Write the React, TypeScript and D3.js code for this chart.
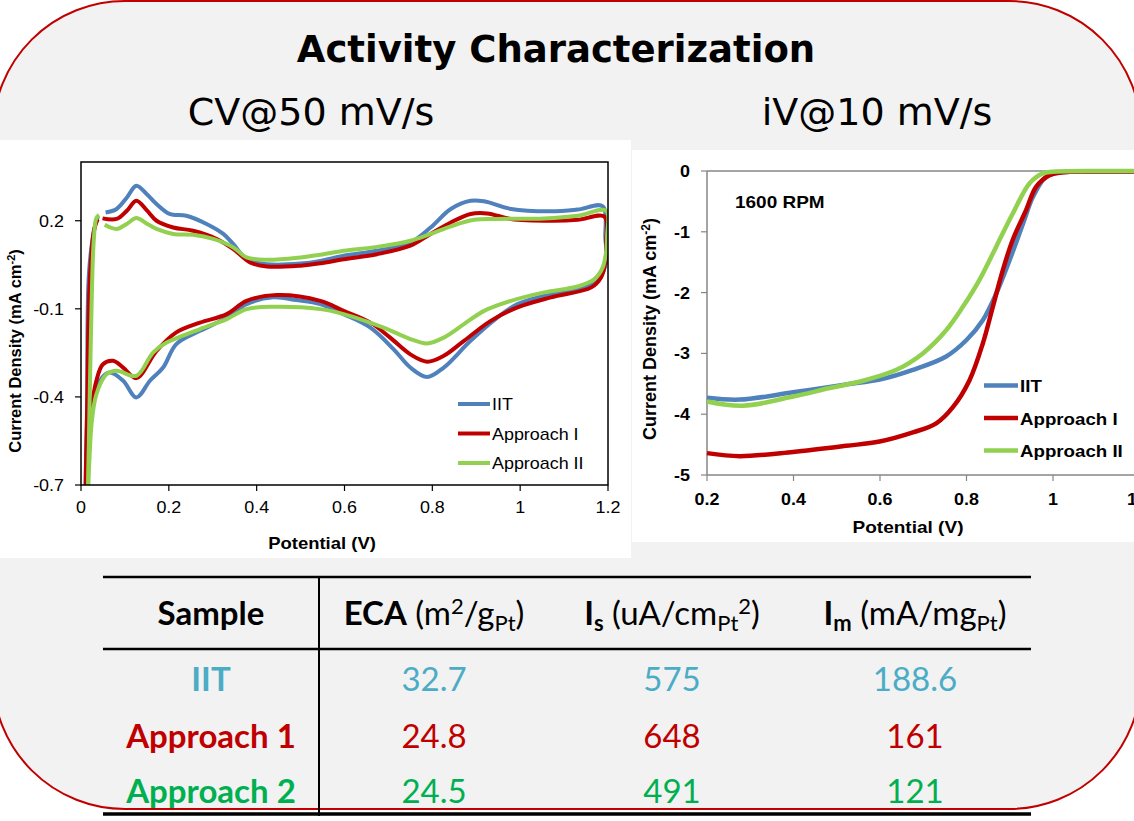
import React from "react";
import * as d3 from "d3";

const W = 1134;
const H = 821;

const seriesNames = ["IIT", "Approach I", "Approach II"];
const seriesColors = ["#4f81bd", "#c00000", "#92d050"];

// CV @ 50 mV/s : [potential V, current mA/cm2], one closed loop per sample
const cvIIT: [number, number][] = [
  [0.056, 0.228], [0.081, 0.24], [0.105, 0.28], [0.126, 0.319], [0.15, 0.29], [0.172, 0.257],
  [0.202, 0.223], [0.24, 0.217], [0.286, 0.189], [0.324, 0.155], [0.347, 0.12], [0.377, 0.069],
  [0.423, 0.052], [0.5, 0.054], [0.545, 0.063], [0.598, 0.081], [0.674, 0.098], [0.75, 0.126],
  [0.796, 0.177], [0.842, 0.24], [0.887, 0.268], [0.918, 0.266], [0.979, 0.24], [1.07, 0.232],
  [1.131, 0.238], [1.188, 0.249], [1.194, 0.14], [1.197, 0.07], [1.19, 0.03], [1.177, -0.005],
  [1.146, -0.027], [1.07, -0.05], [0.994, -0.084], [0.948, -0.13], [0.887, -0.209], [0.826, -0.3],
  [0.788, -0.332], [0.75, -0.3], [0.712, -0.238], [0.659, -0.164], [0.598, -0.118], [0.545, -0.084],
  [0.49, -0.07], [0.438, -0.061], [0.377, -0.084], [0.332, -0.13], [0.271, -0.175], [0.217, -0.22],
  [0.187, -0.3], [0.157, -0.345], [0.126, -0.402], [0.096, -0.345], [0.065, -0.317], [0.043, -0.345],
  [0.027, -0.436], [0.016, -0.607], [0.011, -0.72], [0.014, -0.436], [0.018, 0.018], [0.031, 0.177],
  [0.039, 0.217],
];
const cvApproach1: [number, number][] = [
  [0.049, 0.208], [0.081, 0.206], [0.105, 0.235], [0.126, 0.268], [0.15, 0.235], [0.172, 0.2],
  [0.21, 0.177], [0.255, 0.166], [0.309, 0.138], [0.347, 0.103], [0.385, 0.058], [0.423, 0.044],
  [0.5, 0.047], [0.545, 0.055], [0.598, 0.069], [0.674, 0.086], [0.75, 0.115], [0.796, 0.155],
  [0.842, 0.194], [0.887, 0.223], [0.925, 0.225], [0.979, 0.206], [1.07, 0.2], [1.131, 0.203],
  [1.192, 0.214], [1.196, 0.13], [1.194, 0.06], [1.184, 0.007], [1.162, -0.027], [1.07, -0.061],
  [0.994, -0.095], [0.933, -0.141], [0.872, -0.209], [0.826, -0.26], [0.788, -0.28], [0.75, -0.255],
  [0.704, -0.198], [0.659, -0.147], [0.598, -0.107], [0.545, -0.073], [0.446, -0.053], [0.377, -0.073],
  [0.332, -0.118], [0.271, -0.147], [0.217, -0.18], [0.172, -0.243], [0.126, -0.336], [0.096, -0.3],
  [0.073, -0.277], [0.05, -0.289], [0.035, -0.345], [0.02, -0.493], [0.011, -0.72], [0.014, -0.436],
  [0.02, 0.0], [0.03, 0.17], [0.038, 0.205],
];
const cvApproach2: [number, number][] = [
  [0.054, 0.186], [0.081, 0.172], [0.105, 0.19], [0.126, 0.209], [0.15, 0.19], [0.172, 0.172],
  [0.21, 0.155], [0.255, 0.152], [0.301, 0.138], [0.347, 0.109], [0.377, 0.075], [0.423, 0.067],
  [0.5, 0.075], [0.545, 0.084], [0.598, 0.098], [0.674, 0.111], [0.75, 0.132], [0.796, 0.155],
  [0.842, 0.181], [0.895, 0.203], [0.948, 0.206], [1.055, 0.208], [1.131, 0.217], [1.196, 0.234],
  [1.198, 0.15], [1.196, 0.098], [1.188, 0.041], [1.169, 0.001], [1.131, -0.024], [1.055, -0.044],
  [0.979, -0.073], [0.918, -0.107], [0.872, -0.152], [0.826, -0.198], [0.788, -0.218], [0.75, -0.203],
  [0.689, -0.164], [0.598, -0.118], [0.545, -0.101], [0.438, -0.093], [0.377, -0.101], [0.332, -0.135],
  [0.271, -0.169], [0.195, -0.215], [0.164, -0.249], [0.126, -0.328], [0.081, -0.311], [0.058, -0.323],
  [0.035, -0.391], [0.024, -0.493], [0.016, -0.72], [0.018, -0.55], [0.024, -0.095], [0.029, 0.132],
  [0.035, 0.209], [0.041, 0.22],
];

// iV @ 10 mV/s, 1600 RPM
const ivIIT: [number, number][] = [
  [0.2, -3.73], [0.276, -3.76], [0.399, -3.64], [0.522, -3.51], [0.599, -3.43], [0.676, -3.27],
  [0.753, -3.05], [0.8, -2.78], [0.838, -2.45], [0.869, -2.01], [0.9, -1.46], [0.931, -0.86],
  [0.954, -0.42], [0.985, -0.09], [1.023, -0.02], [1.1, -0.01], [1.2, -0.01],
];
const ivApproach1: [number, number][] = [
  [0.2, -4.64], [0.276, -4.69], [0.399, -4.62], [0.522, -4.52], [0.599, -4.45], [0.676, -4.3],
  [0.73, -4.15], [0.769, -3.88], [0.807, -3.44], [0.838, -2.83], [0.861, -2.23], [0.884, -1.63],
  [0.907, -1.13], [0.938, -0.64], [0.961, -0.26], [0.992, -0.07], [1.023, -0.02], [1.1, -0.01],
  [1.2, -0.01],
];
const ivApproach2: [number, number][] = [
  [0.2, -3.79], [0.283, -3.86], [0.399, -3.71], [0.484, -3.57], [0.561, -3.45], [0.638, -3.27],
  [0.699, -3.0], [0.753, -2.62], [0.792, -2.23], [0.83, -1.79], [0.869, -1.24], [0.907, -0.7],
  [0.946, -0.2], [0.977, -0.04], [1.008, -0.01], [1.1, 0], [1.2, 0],
];

const cvXTicks = [0, 0.2, 0.4, 0.6, 0.8, 1, 1.2];
const cvYTicks = [0.2, -0.1, -0.4, -0.7];
const ivXTicks = [0.2, 0.4, 0.6, 0.8, 1, 1.2];
const ivYTicks = [0, -1, -2, -3, -4, -5];

// table
const samples = ["IIT", "Approach 1", "Approach 2"];
const sampleColors = ["#4bacc6", "#c00000", "#00b050"];
const ecaValues = [32.7, 24.8, 24.5];
const isValues = [575, 648, 491];
const imValues = [188.6, 161, 121];

const ARIAL = "'Liberation Sans', Arial, sans-serif";
const VERDANA = "'DejaVu Sans', Verdana, sans-serif";
const CALIBRI = "Lato, 'Liberation Sans', sans-serif";

// chart text in the source is a little stretched sideways
function SText(props: any) {
  const { x, y, sx = 1.12, children, ...rest } = props;
  return (
    <text transform={`translate(${x},${y}) scale(${sx},1)`} {...rest}>
      {children}
    </text>
  );
}

function CvChart() {
  const x = d3.scaleLinear().domain([0, 1.2]).range([81, 608]);
  const y = d3.scaleLinear().domain([-0.7, 0.4]).range([485, 162]);
  const line = d3
    .line<[number, number]>()
    .x((d) => x(d[0]))
    .y((d) => y(d[1]))
    .curve(d3.curveCatmullRom.alpha(0.5));
  const loops = [cvIIT, cvApproach1, cvApproach2];

  return (
    <g>
      <rect x={0} y={140} width={631} height={418} fill="#fff" />
      <clipPath id="cvclip">
        <rect x={x(0)} y={y(0.4)} width={x(1.2) - x(0)} height={y(-0.7) - y(0.4)} />
      </clipPath>
      <g clipPath="url(#cvclip)">
        {loops.map((d, i) => (
          <path key={i} d={line(d) || ""} fill="none" stroke={seriesColors[i]} strokeWidth={4} strokeLinejoin="round" />
        ))}
      </g>
      <rect x={x(0)} y={y(0.4)} width={x(1.2) - x(0)} height={y(-0.7) - y(0.4)} fill="none" stroke="#000" strokeWidth={1.5} />
      {cvYTicks.map((t) => (
        <g key={t}>
          <line x1={x(0) - 6} x2={x(0)} y1={y(t)} y2={y(t)} stroke="#000" strokeWidth={1.2} />
          <SText x={x(0) - 17} y={y(t) + 6} textAnchor="end" fontFamily={ARIAL} fontSize={16}>
            {String(t)}
          </SText>
        </g>
      ))}
      {cvXTicks.map((t) => (
        <g key={t}>
          <line x1={x(t)} x2={x(t)} y1={y(-0.7)} y2={y(-0.7) + 6} stroke="#000" strokeWidth={1.2} />
          <SText x={x(t)} y={513} textAnchor="middle" fontFamily={ARIAL} fontSize={16}>
            {String(t)}
          </SText>
        </g>
      ))}
      <SText x={322} y={549} textAnchor="middle" fontFamily={ARIAL} fontSize={16.5} fontWeight="bold">
        Potential (V)
      </SText>
      <text transform="translate(21,351) rotate(-90)" textAnchor="middle" fontFamily={ARIAL} fontSize={16.5} fontWeight="bold">
        Current Density (mA cm<tspan dy={-6} fontSize={11}>-2</tspan>
        <tspan dy={6}>)</tspan>
      </text>
      {seriesNames.map((n, i) => (
        <g key={n}>
          <line x1={458} x2={490} y1={404 + i * 29.5} y2={404 + i * 29.5} stroke={seriesColors[i]} strokeWidth={4} />
          <SText x={492} y={410 + i * 29.5} fontFamily={ARIAL} fontSize={16}>
            {n}
          </SText>
        </g>
      ))}
    </g>
  );
}

function IvChart() {
  const x = d3.scaleLinear().domain([0.2, 1.2]).range([707, 1139.5]);
  const y = d3.scaleLinear().domain([-5, 0]).range([475, 171]);
  const line = d3
    .line<[number, number]>()
    .x((d) => x(d[0]))
    .y((d) => y(d[1]))
    .curve(d3.curveCatmullRom.alpha(0.5));
  const curves = [ivIIT, ivApproach1, ivApproach2];
  const axis = "#868686";

  return (
    <g>
      <rect x={632} y={150} width={W - 632} height={392} fill="#fff" />
      <line x1={x(0.2)} x2={x(1.2)} y1={y(0)} y2={y(0)} stroke={axis} strokeWidth={1.5} />
      <line x1={x(0.2)} x2={x(1.2)} y1={y(-5)} y2={y(-5)} stroke={axis} strokeWidth={1.5} />
      <line x1={x(0.2)} x2={x(0.2)} y1={y(0)} y2={y(-5)} stroke={axis} strokeWidth={1.5} />
      {ivYTicks.map((t) => (
        <g key={t}>
          <line x1={x(0.2) - 6} x2={x(0.2)} y1={y(t)} y2={y(t)} stroke={axis} strokeWidth={1.2} />
          <SText x={690} y={y(t) + 6} textAnchor="end" fontFamily={ARIAL} fontSize={16} fontWeight="bold">
            {String(t)}
          </SText>
        </g>
      ))}
      {ivXTicks.map((t) => (
        <g key={t}>
          <line x1={x(t)} x2={x(t)} y1={y(-5)} y2={y(-5) + 6} stroke={axis} strokeWidth={1.2} />
          <SText x={x(t)} y={505} textAnchor="middle" fontFamily={ARIAL} fontSize={16} fontWeight="bold">
            {String(t)}
          </SText>
        </g>
      ))}
      {curves.map((d, i) => (
        <path key={i} d={line(d) || ""} fill="none" stroke={seriesColors[i]} strokeWidth={4.5} strokeLinejoin="round" />
      ))}
      <SText x={735} y={208} fontFamily={ARIAL} fontSize={16.5} fontWeight="bold" sx={1.15}>
        1600 RPM
      </SText>
      <SText x={908} y={533} textAnchor="middle" fontFamily={ARIAL} fontSize={17} fontWeight="bold">
        Potential (V)
      </SText>
      <text transform="translate(656,329) rotate(-90)" textAnchor="middle" fontFamily={ARIAL} fontSize={18} fontWeight="bold">
        Current Density (mA cm<tspan dy={-6} fontSize={12}>-2</tspan>
        <tspan dy={6}>)</tspan>
      </text>
      {seriesNames.map((n, i) => (
        <g key={n}>
          <line x1={984} x2={1018} y1={385.5 + i * 32.5} y2={385.5 + i * 32.5} stroke={seriesColors[i]} strokeWidth={4.5} />
          <SText x={1020} y={392 + i * 32.5} fontFamily={ARIAL} fontSize={17} fontWeight="bold" sx={1.1}>
            {n}
          </SText>
        </g>
      ))}
    </g>
  );
}

function Table() {
  const colX = [211, 434, 672, 915];
  const rowY = [691, 748, 803];
  const fs = 33;
  const sub = { fontSize: 22 };
  return (
    <g fontFamily={CALIBRI} fontSize={fs}>
      <line x1={103} x2={1031} y1={577} y2={577} stroke="#000" strokeWidth={2.5} />
      <line x1={103} x2={1031} y1={649} y2={649} stroke="#000" strokeWidth={2.5} />
      <line x1={103} x2={1031} y1={814} y2={814} stroke="#000" strokeWidth={3.5} />
      <line x1={319} x2={319} y1={577} y2={816} stroke="#000" strokeWidth={2} />
      <text x={colX[0]} y={625} textAnchor="middle" fontWeight="bold">Sample</text>
      <text x={colX[1]} y={625} textAnchor="middle">
        <tspan fontWeight="bold">ECA</tspan> (m<tspan dy={-11} {...sub}>2</tspan>
        <tspan dy={11}>/g</tspan>
        <tspan dy={6} {...sub}>Pt</tspan>
        <tspan dy={-6}>)</tspan>
      </text>
      <text x={colX[2]} y={625} textAnchor="middle">
        <tspan fontWeight="bold">I</tspan>
        <tspan dy={6} {...sub} fontWeight="bold">s</tspan>
        <tspan dy={-6}> (uA/cm</tspan>
        <tspan dy={6} {...sub}>Pt</tspan>
        <tspan dy={-17} {...sub}>2</tspan>
        <tspan dy={11}>)</tspan>
      </text>
      <text x={colX[3]} y={625} textAnchor="middle">
        <tspan fontWeight="bold">I</tspan>
        <tspan dy={6} {...sub} fontWeight="bold">m</tspan>
        <tspan dy={-6}> (mA/mg</tspan>
        <tspan dy={6} {...sub}>Pt</tspan>
        <tspan dy={-6}>)</tspan>
      </text>
      {samples.map((s, i) => (
        <g key={s} fill={sampleColors[i]}>
          <text x={colX[0]} y={rowY[i]} textAnchor="middle" fontWeight="bold">{s}</text>
          <text x={colX[1]} y={rowY[i]} textAnchor="middle">{String(ecaValues[i])}</text>
          <text x={colX[2]} y={rowY[i]} textAnchor="middle">{String(isValues[i])}</text>
          <text x={colX[3]} y={rowY[i]} textAnchor="middle">{String(imValues[i])}</text>
        </g>
      ))}
    </g>
  );
}

export default function App() {
  return (
    <svg
      width={W}
      height={H}
      viewBox={`0 0 ${W} ${H}`}
      style={{ position: "absolute", left: 0, top: 0, background: "#fff" }}
    >
      <rect x={-7} y={1} width={W + 14} height={808} rx={132} ry={132} fill="#f2f2f2" stroke="#c00000" strokeWidth={2} />
      <text x={556} y={62} textAnchor="middle" fontFamily={VERDANA} fontWeight="bold" fontSize={37}>
        Activity Characterization
      </text>
      <text x={311} y={125} textAnchor="middle" fontFamily={VERDANA} fontSize={38}>
        CV@50 mV/s
      </text>
      <text x={877} y={125} textAnchor="middle" fontFamily={VERDANA} fontSize={38}>
        iV@10 mV/s
      </text>
      <CvChart />
      <IvChart />
      <Table />
    </svg>
  );
}
